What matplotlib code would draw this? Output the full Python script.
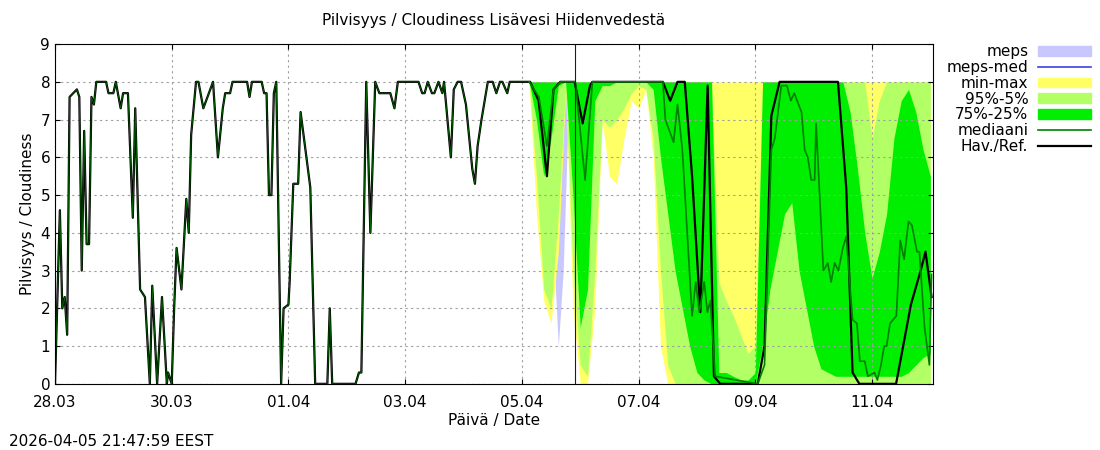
import matplotlib

matplotlib.use("Agg")
import matplotlib.pyplot as plt
from matplotlib.lines import Line2D
from matplotlib.patches import Patch
import numpy as np

# hours from 28.03 00:00
OBS_H = [0, 2, 3, 4, 5, 6, 9, 10, 11, 12, 13, 14, 15, 16, 17, 21, 22, 24, 25, 27, 28, 30, 32, 33, 35, 37,
         39, 40, 42, 44, 46, 46.5, 48, 49, 50, 52, 54, 55, 56, 58, 59, 61, 65, 67, 69, 70, 72, 73, 79, 80,
         81, 85, 86, 87, 88, 89, 90, 91, 93, 94, 96, 96.5, 98, 100, 101, 105, 107, 112, 113, 114, 123.6,
         125, 126, 128, 129.7, 131.7, 133.4, 137.9, 139.6, 141, 149.5, 151, 152, 153.3, 155, 156, 157.7,
         159.3, 160, 162.8, 164, 165.6, 167, 169, 171.6, 172.7, 173.8, 175.4, 178, 180, 181.5, 183, 184,
         186, 187, 195.4, 198.9, 202.3, 205, 207.8, 213.7, 217, 220, 221, 250, 253, 256, 259, 262, 265.4,
         268.4, 271, 273.6, 289, 291.8, 294.6, 298, 322, 325.4, 328, 330.8, 345.9, 352, 356, 358, 360.5]
OBS_V = [0, 4.6, 2.0, 2.3, 1.3, 7.6, 7.8, 7.6, 3.0, 6.7, 3.7, 3.7, 7.6, 7.4, 8, 8, 7.7, 7.7, 8, 7.3, 7.7,
         7.7, 4.4, 7.3, 2.5, 2.3, 0, 2.6, 0, 2.3, 0, 0.3, 0, 2.0, 3.6, 2.5, 4.9, 4.0, 6.6, 8, 8, 7.3, 8, 6.0,
         7.3, 7.7, 7.7, 8, 8, 7.6, 8, 8, 7.7, 7.7, 5.0, 5.0, 7.7, 8, 0, 2.0, 2.1, 2.7, 5.3, 5.3, 7.2, 5.2, 0,
         0, 2.0, 0, 0, 0.3, 0.3, 8, 4.0, 8, 7.7, 7.7, 7.3, 8, 8, 7.7, 7.7, 8, 7.7, 7.7, 8, 7.7, 8, 6.0, 7.8,
         8, 8, 7.4, 5.7, 5.3, 6.3, 7.0, 8, 8, 7.7, 8, 8, 7.7, 8, 8, 7.5, 5.5, 7.8, 8, 8, 6.9, 7.9, 8, 8, 7.5,
         8, 8, 5.5, 1.9, 7.9, 0.2, 0, 0, 1.0, 7.1, 8, 8, 5.2, 0.3, 0, 0, 2.1, 3.0, 3.5, 2.3]

MED_H = [195, 199, 202.3, 205, 208, 214, 218, 221, 250, 251, 254.4, 256, 258, 262, 263.5, 265, 267, 268.3,
         269.5, 271.5, 289, 291.8, 294.6, 296, 298.7, 301, 302.6, 304, 307, 308.3, 309.6, 311, 312.4, 313,
         316, 317.8, 319.2, 320.6, 322.2, 324, 325.4, 328, 329.8, 331, 333, 334.3, 337, 338.2, 339.7, 341,
         342, 343.4, 346, 347.6, 349.2, 351, 352.4, 354.5, 355.5, 357.6, 359.6, 360.5]
MED_V = [8, 7.6, 6.3, 7.8, 8, 8, 5.4, 8, 8, 7.0, 6.4, 7.4, 6.2, 1.8, 2.7, 1.9, 2.7, 1.9, 2.2, 0.2, 0, 0.5,
         6.2, 6.5, 7.9, 7.9, 7.5, 7.7, 7.2, 6.2, 6.0, 5.4, 5.4, 6.9, 3.0, 3.2, 2.7, 3.2, 3.0, 3.6, 3.9, 1.7,
         1.6, 0.6, 0.6, 0.2, 0.3, 0.1, 0.5, 1.0, 1.0, 1.6, 1.8, 3.8, 3.3, 4.3, 4.2, 3.5, 3.5, 1.5, 0.5, 2.9]

BAND_H = list(range(195, 361, 3))
MIN_LO = [7.9, 4.5, 2.2, 1.6, 3.5, 7.8, 2, 0, 0, 2, 7, 5.5, 5.3, 6.5, 7.5, 7.3, 7.8, 6, 1] + [0] * 37
MAX_HI = [8] * 56
P5_LO = [8, 5.5, 2.5, 2.0, 4.5, 7.9, 3, 0.5, 0.2, 3, 7, 6.8, 7, 7.3, 7.7, 7.9, 7.8, 6.5, 3, 0.5] + [0] * 36
P95_HI = [8] * 26 + [2.7, 2.2, 1.8, 1.3, 0.8, 1.0] + [8] * 15 + [6.5, 7.5, 8, 8, 8, 8, 8, 8, 8]
P25_LO = [8, 7, 5.5, 6.5, 7.9, 8, 5, 1.5, 2.5, 7.5, 7.9, 7.9, 8, 8, 8, 8, 8, 7.8, 6, 4.5, 3, 2, 1, 0.3,
          0.1, 0, 0, 0, 0, 0, 0, 0, 1, 2.5, 3.5, 4.5, 4.8, 3, 2, 1, 0.4, 0.3, 0.2, 0.2, 0.2, 0.2, 0.2, 0.2,
          0.2, 0.2, 0.2, 0.2, 0.3, 0.5, 0.7, 0.8]
P75_HI = [8] * 26 + [0.3, 0.3, 0.2, 0.1, 0.1, 0.3] + [8] * 12 + [7.2, 5.7, 4, 2.8, 3.5, 4.5, 6.5, 7.5, 7.8, 7.2,
                                                              6.2, 5.5]
MEPS_H = [200, 203, 205, 207, 209, 211, 213, 258, 260, 262, 264, 266]
MEPS_LO = [8, 6, 3.5, 1, 3, 7, 8, 0, 0, 0, 0, 0]
MEPS_HI = [8, 8, 8, 8, 8, 8, 8, 0, 0, 1.0, 0.8, 0]

NOW_H = 213.8
TICK_H = list(range(0, 361, 48))
TICK_L = ["28.03", "30.03", "01.04", "03.04", "05.04", "07.04", "09.04", "11.04"]

fig = plt.figure(figsize=(11, 4.5), dpi=100)
ax = fig.add_axes([0.05, 0.147, 0.798, 0.755])

mh = np.array(MEPS_H)
for sl in (slice(0, 7), slice(7, 12)):
    ax.fill_between(mh[sl], np.array(MEPS_LO)[sl], np.array(MEPS_HI)[sl], color="#c8c8ff", lw=0)
ax.fill_between(BAND_H, MIN_LO, MAX_HI, color="#ffff66", lw=0)
ax.fill_between(BAND_H, P5_LO, P95_HI, color="#b3ff66", lw=0)
ax.fill_between(BAND_H, P25_LO, P75_HI, color="#00ee00", lw=0)
ax.plot(OBS_H, OBS_V, color="black", lw=1.6)
ax.plot(OBS_H[:106], OBS_V[:106], color="#006400", lw=0.6)
ax.plot(MED_H, MED_V, color="#008000", lw=1.2)
ax.axvline(NOW_H, color="#660000", lw=0.8)

ax.set_xlim(0, 361)
ax.set_ylim(0, 9)
ax.set_xticks(TICK_H)
ax.set_xticklabels(TICK_L)
ax.set_yticks(range(10))
ax.tick_params(direction="in", top=True, right=True, labelsize=11)
ax.tick_params(axis="x", pad=8)
ax.grid(True, color="#a0a0a0", ls=(0, (2, 3)), lw=0.8)
ax.set_xlabel("Päivä / Date", fontsize=11, labelpad=2)
ax.set_ylabel("Pilvisyys / Cloudiness", fontsize=11)
ax.set_title("Pilvisyys / Cloudiness Lisävesi Hiidenvedestä", fontsize=11, pad=14)

handles = [Patch(color="#c8c8ff"), Line2D([], [], color="#4040e0", lw=1.2), Patch(color="#ffff66"),
           Patch(color="#b3ff66"), Patch(color="#00ee00"), Line2D([], [], color="#008000", lw=1.2),
           Line2D([], [], color="black", lw=1.6)]
labels = ["meps", "meps-med", "min-max", "95%-5%", "75%-25%", "mediaani", "Hav./Ref."]
fig.legend(handles, labels, loc="upper left", bbox_to_anchor=(0.855, 0.915), frameon=False,
           markerfirst=False, fontsize=11, handlelength=3.5, handleheight=0.6, labelspacing=0.05,
           borderaxespad=0, handletextpad=0.6)
fig.text(0.008, 0.01, "2026-04-05 21:47:59 EEST", fontsize=11)

fig.savefig("out.png", dpi=100)
